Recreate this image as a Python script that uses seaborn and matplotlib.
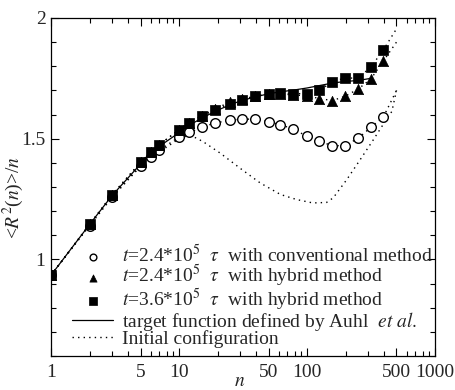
import numpy as np
import pandas as pd
import matplotlib
matplotlib.use("Agg")
import matplotlib.pyplot as plt
import matplotlib.ticker as mticker
import seaborn as sns

# ---- data ----
n_pts = [1, 2, 3, 5, 6, 7, 10, 12, 15, 19, 25, 31, 39, 50, 62, 78, 100, 125, 158, 197, 250, 315, 395]
conv_24 = [0.935, 1.140, 1.257, 1.386, 1.424, 1.452, 1.507, 1.526, 1.547, 1.565, 1.576, 1.581, 1.581,
           1.570, 1.558, 1.540, 1.510, 1.489, 1.471, 1.471, 1.501, 1.547, 1.590]
hyb_24 = [0.935, 1.145, 1.268, 1.402, 1.443, 1.475, 1.537, 1.567, 1.594, 1.625, 1.650, 1.663, 1.676,
          1.685, 1.686, 1.681, 1.678, 1.666, 1.658, 1.675, 1.705, 1.747, 1.822]
hyb_36 = [0.935, 1.145, 1.268, 1.402, 1.443, 1.475, 1.537, 1.567, 1.592, 1.620, 1.645, 1.661, 1.675,
          1.685, 1.689, 1.687, 1.686, 1.700, 1.736, 1.751, 1.751, 1.796, 1.868]
n_end = 500
conv_end, hyb24_end, hyb36_end = 1.70, 1.90, 1.955

target_n = [1, 2, 3, 5, 6, 7, 10, 12, 15, 20, 25, 30, 40, 50, 60, 80, 100, 125, 160, 200, 250, 316]
target_v = [0.935, 1.145, 1.265, 1.395, 1.435, 1.468, 1.525, 1.555, 1.585, 1.618, 1.640, 1.656, 1.674,
            1.686, 1.693, 1.702, 1.710, 1.720, 1.731, 1.737, 1.741, 1.750]

init_n = [1, 2, 3, 5, 6, 8, 10, 12, 14, 16, 21, 31, 43, 62, 83, 111, 142, 160, 204, 260, 330, 400, 460, 500]
init_v = [0.935, 1.145, 1.262, 1.388, 1.425, 1.465, 1.500, 1.515, 1.500, 1.482, 1.440, 1.372, 1.317,
          1.269, 1.248, 1.234, 1.236, 1.255, 1.330, 1.413, 1.496, 1.565, 1.613, 1.700]

labels = [r"$t$=2.4*10$^5$  $\tau$  with conventional method",
          r"$t$=2.4*10$^5$  $\tau$  with hybrid method",
          r"$t$=3.6*10$^5$  $\tau$  with hybrid method",
          r"target function defined by Auhl  $et\ al.$",
          "Initial configuration"]

x_ticks = [1, 5, 10, 50, 100, 500, 1000]
y_ticks = [1, 1.5, 2]

# ---- style ----
sns.set_style("ticks")
plt.rcParams["font.family"] = ["Liberation Serif", "DejaVu Serif"]
plt.rcParams["mathtext.fontset"] = "stix"

fig = plt.figure(figsize=(4.56, 3.9), dpi=100)
ax = fig.add_axes([0.112, 0.087, 0.842, 0.867])

dot = (0, (1, 3))
col = "black"

def df(x, y):
    return pd.DataFrame({"n": x, "v": y})

# connecting dotted lines of the series
sns.lineplot(data=df(n_pts + [n_end], conv_24 + [conv_end]), x="n", y="v", ax=ax, color=col,
             lw=1.0, linestyle=dot, sort=False, estimator=None)
sns.lineplot(data=df(n_pts + [n_end], hyb_24 + [hyb24_end]), x="n", y="v", ax=ax, color=col,
             lw=1.0, linestyle=dot, sort=False, estimator=None)
sns.lineplot(data=df(n_pts + [n_end], hyb_36 + [hyb36_end]), x="n", y="v", ax=ax, color=col,
             lw=1.0, linestyle=dot, sort=False, estimator=None)

# target and initial configuration
sns.lineplot(data=df(target_n, target_v), x="n", y="v", ax=ax, color=col, lw=0.9,
             sort=False, estimator=None, label=labels[3], zorder=2)
sns.lineplot(data=df(init_n, init_v), x="n", y="v", ax=ax, color=col, lw=1.0, linestyle=dot,
             sort=False, estimator=None, label=labels[4], zorder=2)

# markers
sns.scatterplot(data=df(n_pts, conv_24), x="n", y="v", ax=ax, marker="o", s=48,
                facecolor="white", edgecolor="black", linewidth=1.0, label=labels[0], zorder=3)
sns.scatterplot(data=df(n_pts, hyb_24), x="n", y="v", ax=ax, marker="^", s=55,
                color="black", edgecolor="black", linewidth=0.5, label=labels[1], zorder=4)
sns.scatterplot(data=df(n_pts, hyb_36), x="n", y="v", ax=ax, marker="s", s=55,
                color="black", edgecolor="black", linewidth=0.5, label=labels[2], zorder=5)

ax.set_xscale("log")
ax.set_xlim(1, 1000)
ax.set_ylim(0.6, 2.0)

ax.xaxis.set_major_locator(mticker.FixedLocator(x_ticks))
ax.xaxis.set_major_formatter(mticker.FixedFormatter([str(t) for t in x_ticks]))
ax.xaxis.set_minor_locator(mticker.LogLocator(base=10, subs=np.arange(2, 10), numticks=20))
ax.xaxis.set_minor_formatter(mticker.NullFormatter())
ax.yaxis.set_major_locator(mticker.FixedLocator(y_ticks))
ax.yaxis.set_major_formatter(mticker.FixedFormatter(["1", "1.5", "2"]))
ax.yaxis.set_minor_locator(mticker.MultipleLocator(0.1))

ax.tick_params(which="both", direction="in", top=True, right=True, labelsize=14,
               width=0.8, color="black")
ax.tick_params(axis="x", which="both", pad=6)
ax.tick_params(axis="y", which="both", pad=4)
ax.tick_params(which="major", length=6)
ax.tick_params(which="minor", length=3.5)
for s in ax.spines.values():
    s.set_linewidth(0.9)
    s.set_color("black")

ax.set_xlabel(r"$n$", fontsize=14)
ax.xaxis.set_label_coords(0.49, -0.05)
ax.set_ylabel(r"<$R^2$($n$)>/$n$", fontsize=14)
ax.yaxis.set_label_coords(-0.066, 0.47)

h, l = ax.get_legend_handles_labels()
hd = dict(zip(l, h))
leg = ax.legend([hd[k] for k in labels], labels, loc="lower left",
                bbox_to_anchor=(0.055, 0.025), borderaxespad=0, borderpad=0,
                frameon=False, fontsize=14, handlelength=2.1, handletextpad=0.45,
                labelspacing=-0.15, markerscale=0.7)

fig.savefig("out.png", dpi=100)
